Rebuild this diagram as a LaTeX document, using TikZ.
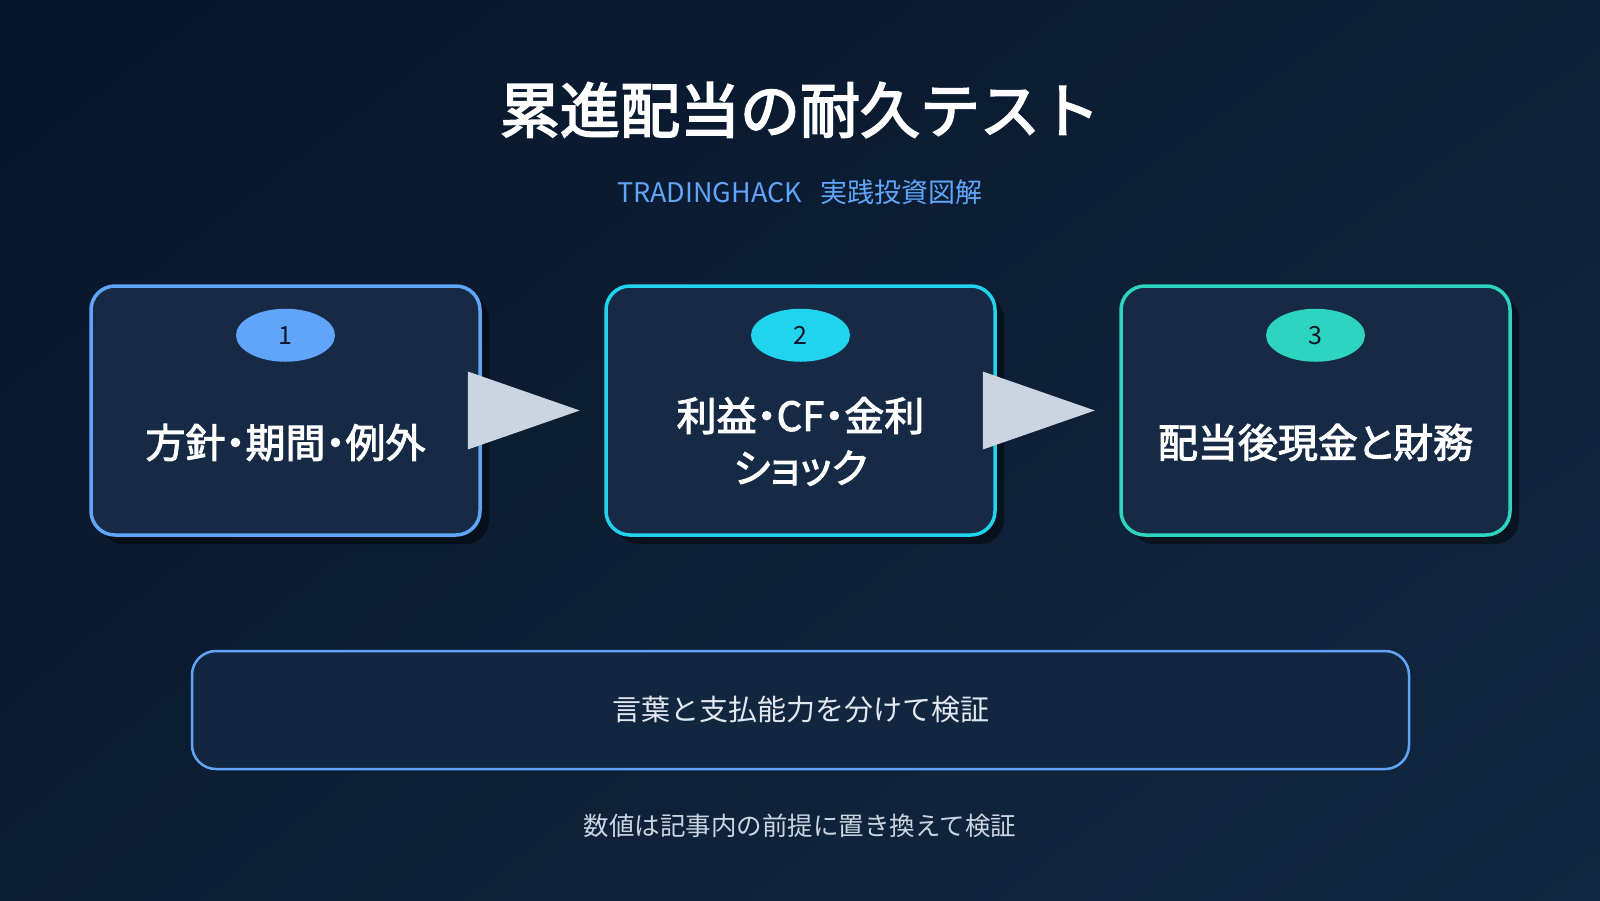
\documentclass[tikz,border=0pt]{standalone}
\usepackage{fontspec}
\setmainfont{Noto Sans CJK JP}
\newfontfamily\semib[FakeBold=3]{Noto Sans CJK JP}
\newfontfamily\semibp[FakeBold=2.5,RawFeature=+palt]{Noto Sans CJK JP}
\usetikzlibrary{calc,shapes.geometric,shadows,shadings}
\definecolor{bgA}{HTML}{07152A}
\definecolor{bgB}{HTML}{122941}
\definecolor{boxfill}{HTML}{162A46}
\definecolor{notefill}{HTML}{13263F}
\definecolor{cblue}{HTML}{60A5FA}
\definecolor{ccyan}{HTML}{22D3EE}
\definecolor{cteal}{HTML}{2DD4BF}
\definecolor{tri}{HTML}{CBD5E1}
\definecolor{numtext}{HTML}{0F172A}
\definecolor{notetext}{HTML}{E2E8F0}
\definecolor{foot}{HTML}{CBD5E1}
\tikzset{
  stepbox/.style={draw, fill=boxfill, line width=3.5pt, rounded corners=24pt,
    minimum width=389pt, minimum height=249pt, inner sep=0pt,
    drop shadow={shadow xshift=9pt, shadow yshift=-9pt, fill=black, opacity=0.45}},
  badge/.style={ellipse, minimum width=99pt, minimum height=53pt, inner sep=0pt,
    text=numtext, font=\fontsize{25}{28}\selectfont},
  steptext/.style={text=white, align=center, font=\semibp\fontsize{40}{52}\selectfont},
  arrowtri/.style={fill=tri},
}
\begin{document}
\begin{tikzpicture}[x=1pt,y=-1pt]
\useasboundingbox (0,0) rectangle (1600,900);
\shade[upper left=bgA, lower left=bgA!60!bgB, upper right=bgA!45!bgB, lower right=bgB] (0,0) rectangle (1600,900);

\node[text=white, font=\semib\fontsize{60}{72}\selectfont] (title) at (800,110) {累進配当の耐久テスト};
\node[text=cblue, font=\fontsize{27}{30}\selectfont] (sub) at (800,192) {TRADINGHACK\hspace{0.7em}実践投資図解};

\node[stepbox, draw=cblue] (b1) at (285.5,410.5) {};
\node[stepbox, draw=ccyan] (b2) at (800.5,410.5) {};
\node[stepbox, draw=cteal] (b3) at (1315.5,410.5) {};

\node[badge, fill=cblue] (n1) at ($(b1.north)+(0,51)$) {\raisebox{-2.5pt}{1}};
\node[badge, fill=ccyan] (n2) at ($(b2.north)+(0,51)$) {\raisebox{-2.5pt}{2}};
\node[badge, fill=cteal] (n3) at ($(b3.north)+(0,51)$) {\raisebox{-2.5pt}{3}};

\node[steptext] (t1) at ($(b1.center)+(0,32)$) {方針・期間・例外};
\node[steptext] (t2) at ($(b2.center)+(0,31)$) {利益・CF・金利\\ショック};
\node[steptext] (t3) at ($(b3.center)+(0,32)$) {配当後現金と財務};

\fill[arrowtri] ($(b1.east)+(-14,-39)$) -- ($(b1.east)+(-14,39)$) -- ($(b1.east)+(98,0)$) -- cycle;
\fill[arrowtri] ($(b2.east)+(-14,-39)$) -- ($(b2.east)+(-14,39)$) -- ($(b2.east)+(98,0)$) -- cycle;

\node[draw=cblue, fill=notefill, line width=2.5pt, rounded corners=24pt,
  minimum width=1217pt, minimum height=118pt, text=notetext,
  font=\fontsize{29}{34}\selectfont] (note) at (800.5,710) {言葉と支払能力を分けて検証};

\node[text=foot, font=\fontsize{25.5}{30}\selectfont] (footer) at (800,826) {数値は記事内の前提に置き換えて検証};
\end{tikzpicture}
\end{document}
